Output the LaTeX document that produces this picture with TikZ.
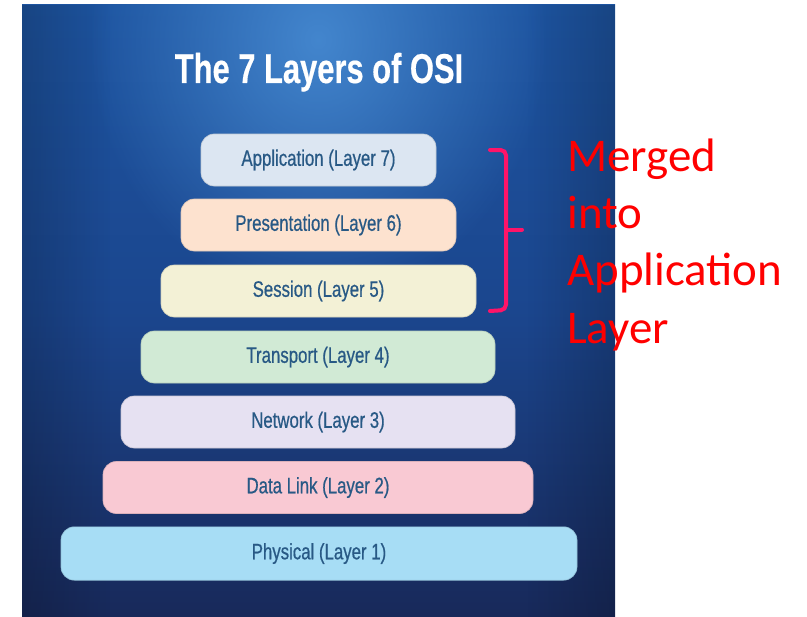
\documentclass[tikz,border=0pt]{standalone}
\usepackage{fontspec}
\usetikzlibrary{fadings}
\newfontfamily\condfont[FakeStretch=0.75, FakeBold=0.6]{Liberation Sans}
\newfontfamily\condbold[FakeStretch=0.74, FakeBold=0.4]{Liberation Sans Bold}
\newfontfamily\notefont{Carlito}

\definecolor{panelTop}{HTML}{1D54A0}
\definecolor{panelMid}{HTML}{1B468E}
\definecolor{panelBot}{HTML}{18295A}
\definecolor{glow}{HTML}{4A8FD6}
\definecolor{labelInk}{HTML}{285985}
\definecolor{bracketPink}{HTML}{FF1468}
\definecolor{cApp}{HTML}{DCE6F2}
\definecolor{cPres}{HTML}{FDE2CF}
\definecolor{cSess}{HTML}{F3F1D6}
\definecolor{cTrans}{HTML}{D1EAD5}
\definecolor{cNet}{HTML}{E6E1F2}
\definecolor{cLink}{HTML}{F9C9D3}
\definecolor{cPhys}{HTML}{A7DDF5}

\tikzfading[name=softglow, inner color=transparent!0, outer color=transparent!100]
\tikzfading[name=edgefade, left color=transparent!0, right color=transparent!100]

\tikzset{
  layer/.style={rounded corners=10pt, fill=#1, draw=#1!88!black, line width=0.5pt,
    minimum height=39pt, inner sep=0pt, text=labelInk,
    font=\condfont\fontsize{16.8pt}{18pt}\selectfont},
  title/.style={text=white, inner sep=0pt, font=\condbold\fontsize{31.3pt}{34pt}\selectfont},
  note/.style={text=red, inner sep=0pt, align=left,
    font=\notefont\fontsize{35.2pt}{42.8pt}\selectfont},
  brace/.style={draw=bracketPink, line width=3pt, line cap=round, rounded corners=4pt}
}

\begin{document}
\begin{tikzpicture}[x=0.75pt, y=-0.75pt]
  \useasboundingbox (0,0) rectangle (807,617);
  \fill[white] (0,0) rectangle (807,617);

  % gradient panel
  \shade[top color=panelTop, bottom color=panelBot, middle color=panelMid]
    (22,5) rectangle (615,617);
  \begin{scope}
    \clip (22,5) rectangle (615,617);
    \fill[glow, path fading=softglow, opacity=0.85] (318,40) ellipse [x radius=230, y radius=260];
    \fill[black, path fading=edgefade, opacity=0.18] (22,5) rectangle (110,617);
    \fill[black, path fading=edgefade, fading angle=180, opacity=0.18] (527,5) rectangle (615,617);
  \end{scope}

  \node[title, anchor=base] (title) at (319,83) {The 7 Layers of OSI};

  % the seven layers
  \node[layer=cApp,   minimum width=235*0.75pt] (app)   at (318.5,160)   {Application (Layer 7)};
  \node[layer=cPres,  minimum width=275*0.75pt] (pres)  at (318.5,225)   {Presentation (Layer 6)};
  \node[layer=cSess,  minimum width=315*0.75pt] (sess)  at (318.5,291)   {Session (Layer 5)};
  \node[layer=cTrans, minimum width=354*0.75pt] (trans) at (318,357)     {Transport (Layer 4)};
  \node[layer=cNet,   minimum width=394*0.75pt] (net)   at (318,422)     {Network (Layer 3)};
  \node[layer=cLink,  minimum width=430*0.75pt] (link)  at (318,487.5)   {Data Link (Layer 2)};
  \node[layer=cPhys,  minimum width=516*0.75pt, minimum height=40pt] (phys) at (319,553.5) {Physical (Layer 1)};

  % bracket grouping the upper three layers
  \draw[brace] (490,150) -- (506,150) -- (506,229) -- (506,310) -- (490,311);
  \draw[brace, rounded corners=0pt] (506,229.5) -- (522,229.5);

  % the base anchor of a multi-line node sits on its last line
  \node[note, anchor=base west] (merged) at (567,343) {Merged\\into\\Application\\Layer};
\end{tikzpicture}
\end{document}
